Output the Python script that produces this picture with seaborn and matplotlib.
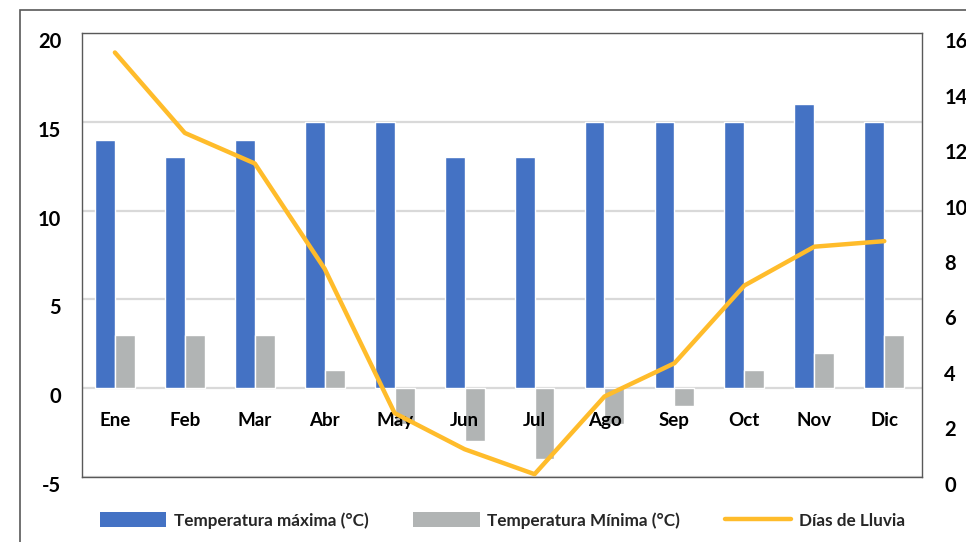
import numpy as np
import pandas as pd
import matplotlib
matplotlib.use("Agg")
import matplotlib.pyplot as plt
import matplotlib.transforms as mtransforms
from matplotlib.patches import Patch, Rectangle
from matplotlib.lines import Line2D
import seaborn as sns

# datos del climograma
meses = ["Ene", "Feb", "Mar", "Abr", "May", "Jun", "Jul", "Ago", "Sep", "Oct", "Nov", "Dic"]
temp_max = [14, 13, 14, 15, 15, 13, 13, 15, 15, 15, 16, 15]
temp_min = [3, 3, 3, 1, -2, -3, -4, -2, -1, 1, 2, 3]
dias_lluvia = [15.3, 12.4, 11.3, 7.5, 2.3, 1.0, 0.1, 2.9, 4.1, 6.9, 8.3, 8.5]

serie_max = "Temperatura máxima (°C)"
serie_min = "Temperatura Mínima (°C)"
serie_lluvia = "Días de Lluvia"

azul = "#4472C4"
gris = "#B1B4B4"
amarillo = "#FFBC2B"
borde = "#595959"

sns.set_theme(style="white")
plt.rcParams["font.family"] = ["Lato", "DejaVu Sans"]
plt.rcParams["font.weight"] = "bold"
plt.rcParams["axes.unicode_minus"] = False

df = pd.DataFrame({
    "mes": meses * 2,
    "valor": temp_max + temp_min,
    "serie": [serie_max] * 12 + [serie_min] * 12,
})

fig = plt.figure(figsize=(9.66, 5.42), dpi=100)
ax = fig.add_axes([0.0849, 0.12, 0.8696, 0.819])

ax.yaxis.grid(True, color="#D9D9D9", linewidth=1.6, zorder=0)
ax.set_axisbelow(True)
sns.barplot(data=df, x="mes", y="valor", hue="serie", palette=[azul, gris],
            width=0.57, gap=0, saturation=1, legend=False, ax=ax, zorder=2)
ax.set_ylim(-5, 20)
ax.set_yticks([-5, 0, 5, 10, 15, 20])
ax.set_xlim(-0.47, 11.54)
ax.set_xlabel("")
ax.set_ylabel("")
ax.set_xticks([])
for s in ax.spines.values():
    s.set_visible(True)
    s.set_color(borde)
    s.set_linewidth(1.0)
ax.tick_params(axis="y", length=0, pad=15, labelsize=14.5, labelcolor="black")
off = mtransforms.ScaledTranslation(0, -7 / 100, fig.dpi_scale_trans)
for lab in ax.get_yticklabels():
    lab.set_transform(lab.get_transform() + off)

# etiquetas de meses junto a la línea de cero
sec = ax.secondary_xaxis(0.2)
sec.set_xticks(range(len(meses)), meses)
sec.tick_params(length=0, pad=17, labelsize=13.5, labelcolor="black")
sec.spines["bottom"].set_visible(False)
sec.set_zorder(6)

ax2 = ax.twinx()
sns.lineplot(x=np.arange(len(meses)), y=dias_lluvia, color=amarillo, linewidth=3.2,
             ax=ax2, zorder=3)
ax2.set_ylim(0, 16)
ax2.set_yticks(range(0, 17, 2))
ax2.set_ylabel("")
for s in ax2.spines.values():
    s.set_visible(False)
ax2.tick_params(axis="y", length=0, pad=16, labelsize=14.5, labelcolor="black")
for lab in ax2.get_yticklabels():
    lab.set_transform(lab.get_transform() + off)

# marco exterior
fig.patches.append(Rectangle((20 / 966, -0.1), 1.2, (532 / 542) + 0.1,
                             transform=fig.transFigure, fill=False,
                             edgecolor=borde, linewidth=1.2))

handles = [
    Patch(facecolor=azul, edgecolor="none", label=serie_max),
    Patch(facecolor=gris, edgecolor="none", label=serie_min),
    Line2D([0], [0], color=amarillo, linewidth=3.2, label=serie_lluvia),
]
fig.legend(handles=handles, loc="center", bbox_to_anchor=(0.52, 0.04), ncol=3,
           frameon=False, fontsize=12.3, handlelength=3.9, handleheight=0.95,
           handletextpad=0.45, columnspacing=2.6)

fig.savefig("out.png", dpi=100)
